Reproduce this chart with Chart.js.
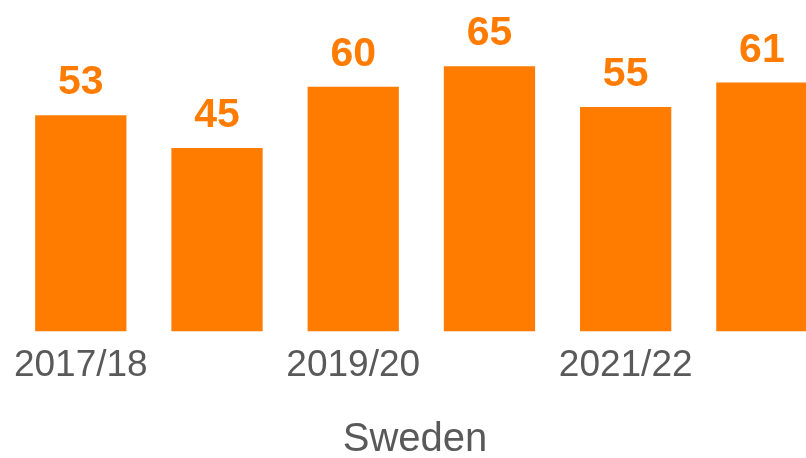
<!DOCTYPE html>
<html>
<head>
<meta charset="utf-8">
<script src="https://cdn.jsdelivr.net/npm/chart.js@4/dist/chart.umd.min.js"></script>
<style>
  html, body { margin: 0; padding: 0; background: #fff; overflow: hidden; }
  #wrap { width: 830px; height: 458px; }
</style>
</head>
<body>
<div id="wrap"><canvas id="chart" width="830" height="458"></canvas></div>
<script>
// Sweden - yearly values
const seasons = ['2017/18', '2018/19', '2019/20', '2020/21', '2021/22', '2022/23'];
const values = [53, 45, 60, 65, 55, 61];

const ORANGE = '#FF7C00';
const GREY = '#595959';
const FONT = "'Liberation Sans', Arial, sans-serif";

// values drawn above each bar
const barValues = {
  id: 'barValues',
  afterDatasetsDraw(chart) {
    const ctx = chart.ctx;
    const meta = chart.getDatasetMeta(0);
    ctx.save();
    ctx.fillStyle = ORANGE;
    ctx.font = `bold 41px ${FONT}`;
    ctx.textAlign = 'center';
    ctx.textBaseline = 'alphabetic';
    meta.data.forEach((bar, i) => {
      ctx.fillText(String(values[i]), bar.x, bar.y - 21);
    });
    ctx.restore();
  }
};

new Chart(document.getElementById('chart'), {
  type: 'bar',
  data: {
    labels: seasons,
    datasets: [{
      data: values,
      backgroundColor: ORANGE,
      borderWidth: 0,
      categoryPercentage: 1,
      barPercentage: 0.67
    }]
  },
  options: {
    responsive: false,
    animation: false,
    layout: { padding: { left: 0, right: 0, top: 5, bottom: 0 } },
    plugins: {
      legend: { display: false },
      tooltip: { enabled: false },
      title: {
        display: true,
        position: 'bottom',
        text: 'Sweden',
        color: GREY,
        font: { family: FONT, size: 40, weight: 'normal', lineHeight: 0.9 },
        padding: { top: 22, bottom: 0 }
      }
    },
    scales: {
      x: {
        grid: { display: false, drawTicks: false },
        border: { display: false },
        ticks: {
          color: GREY,
          font: { family: FONT, size: 37, lineHeight: 1.2 },
          padding: 12,
          autoSkip: false,
          maxRotation: 0,
          callback: (v, i) => (i % 2 === 0 ? seasons[i] : '')
        }
      },
      y: {
        min: 0,
        max: 80,
        grid: { display: false },
        border: { display: false },
        ticks: { display: false },
        afterFit: (scale) => { scale.width = 12.7; }
      }
    }
  },
  plugins: [barValues]
});
</script>
</body>
</html>
